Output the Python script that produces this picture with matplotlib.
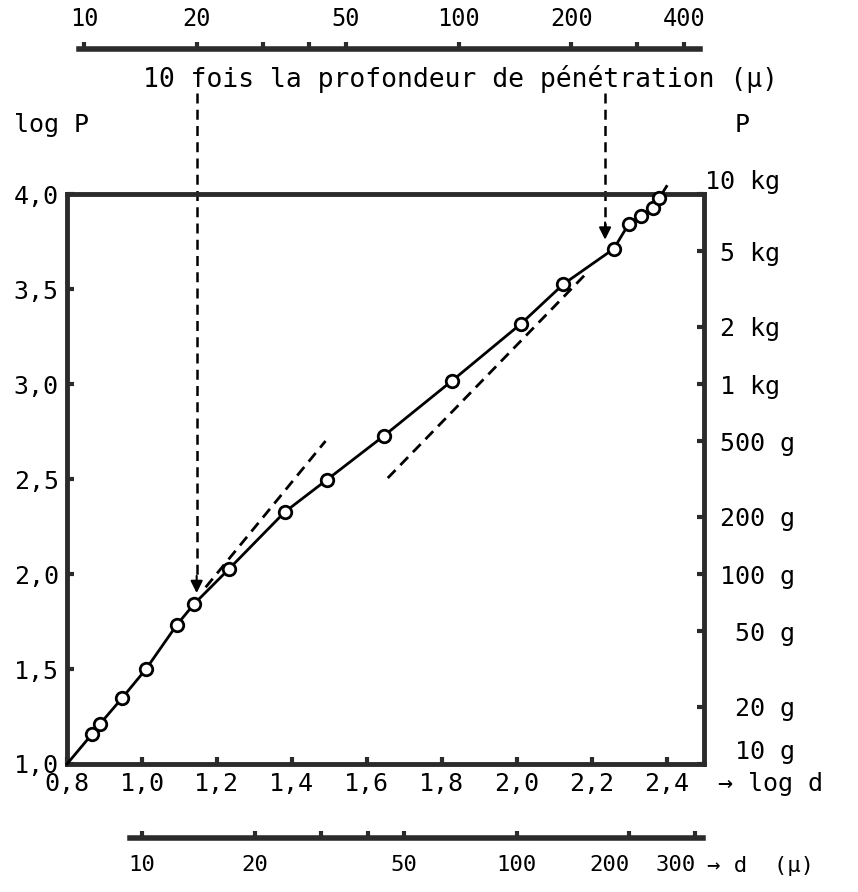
import numpy as np
import matplotlib
matplotlib.use('Agg')
import matplotlib.pyplot as plt

plt.rcParams['font.family'] = ['DejaVu Sans Mono']

# measured curve, log d (µ) vs log P (g); first point = corner start, last = end past the frame
log_d = [0.80, 0.867, 0.888, 0.947, 1.011, 1.093, 1.139, 1.232, 1.381, 1.493,
         1.645, 1.827, 2.011, 2.125, 2.259, 2.299, 2.333, 2.365, 2.381, 2.40]
log_p = [1.00, 1.158, 1.211, 1.347, 1.50, 1.732, 1.842, 2.026, 2.326, 2.495,
         2.726, 3.016, 3.316, 3.526, 3.711, 3.842, 3.884, 3.926, 3.979, 4.04]

# dashed tangents
tan1_x = [1.17, 1.49]
tan1_y = [1.93, 2.70]
tan2_x = [1.656, 2.187]
tan2_y = [2.505, 3.584]

# dashed arrows (x in log d, tip in log P)
arrow_x = [1.146, 2.236]
arrow_tip = [1.885, 3.745]
arrow_top = 4.53

# axis ticks
x_ticks = [0.8, 1.0, 1.2, 1.4, 1.6, 1.8, 2.0, 2.2, 2.4]
x_labels = ['0,8', '1,0', '1,2', '1,4', '1,6', '1,8', '2,0', '2,2', '2,4']
y_ticks = [1.0, 1.5, 2.0, 2.5, 3.0, 3.5, 4.0]
y_labels = ['1,0', '1,5', '2,0', '2,5', '3,0', '3,5', '4,0']
p_grams = [10, 20, 50, 100, 200, 500, 1000, 2000, 5000, 10000]
p_labels = ['  10 g', '  20 g', '  50 g', ' 100 g', ' 200 g', ' 500 g',
            ' 1 kg', ' 2 kg', ' 5 kg', '10 kg']
d_ticks = [10, 20, 30, 40, 50, 100, 200, 300]
d_labels = ['10', '20', '', '', '50', '100', '200', '300']
pen_ticks = [10, 20, 30, 40, 50, 100, 200, 300, 400]
pen_labels = ['10', '20', '', '', '50', '100', '200', '', '400']

spine_c = '#2b2b2b'

fig = plt.figure(figsize=(8.58, 8.92), dpi=100)
ax = fig.add_axes([0.0781, 0.1435, 0.7424, 0.6390])
ax.set_xlim(0.8, 2.5)
ax.set_ylim(1.0, 4.0)

for s in ax.spines.values():
    s.set_linewidth(3.5)
    s.set_color(spine_c)

ax.plot(log_d, log_p, color='k', lw=2, marker='o', ms=9, mfc='white',
        mec='k', mew=2, markevery=list(range(1, len(log_d) - 1)), clip_on=False, zorder=3)
ax.plot(tan1_x, tan1_y, color='k', lw=2, ls=(0, (4, 2.5)))
ax.plot(tan2_x, tan2_y, color='k', lw=2, ls=(0, (4, 2.5)))

for xa, yt in zip(arrow_x, arrow_tip):
    ax.plot([xa, xa], [arrow_top, yt + 0.06], color='k', lw=1.8, ls=(0, (4, 2.5)), clip_on=False)
    ax.annotate('', xy=(xa, yt), xytext=(xa, yt + 0.12), annotation_clip=False,
                arrowprops=dict(arrowstyle='-|>', color='k', lw=1.5, mutation_scale=18))

ax.set_xticks(x_ticks)
ax.set_xticklabels(x_labels)
ax.set_yticks(y_ticks)
ax.set_yticklabels(y_labels)
ax.tick_params(direction='in', length=5, width=3, color=spine_c, labelsize=18)
ax.tick_params(axis='x', pad=6)
ax.tick_params(axis='y', pad=6)

axr = ax.twinx()
axr.set_ylim(1.0, 4.0)
axr.set_yticks(np.log10(p_grams))
axr.set_yticklabels(p_labels)
axr.tick_params(direction='in', length=5, width=3, color=spine_c, labelsize=18, pad=1)
rlabs = axr.get_yticklabels()
for lab in rlabs:
    lab.set_ha('left')
rlabs[0].set_va('bottom')
rlabs[-1].set_va('bottom')
for s in axr.spines.values():
    s.set_visible(False)

# bottom scale: d (µ)
axd = ax.secondary_xaxis(-0.13, functions=(lambda x: 10 ** x, np.log10))
axd.set_xticks(d_ticks)
axd.set_xticklabels(d_labels)
axd.tick_params(direction='in', length=5, width=3, color=spine_c, labelsize=16, pad=12)
axd.spines['bottom'].set_linewidth(4)
axd.spines['bottom'].set_color(spine_c)
axd.spines['bottom'].set_bounds(9.3, 315)
dlabs = axd.get_xticklabels()
dlabs[-1].set_ha('right')
dlabs[-2].set_ha('right')

# top scale: 10 x penetration depth (d/7)
axt = ax.secondary_xaxis(1.254, functions=(lambda x: 10 * 10 ** x / 7,
                                           lambda v: np.log10(np.maximum(v, 1e-9) * 0.7)))
axt.set_xticks(pen_ticks)
axt.set_xticklabels(pen_labels)
axt.tick_params(direction='out', length=5, width=3, color=spine_c, labelsize=17, pad=8)
axt.spines['top'].set_linewidth(4)
axt.spines['top'].set_color(spine_c)
axt.spines['top'].set_bounds(9.7, 440)

ax.text(0.617, 1.202, '10 fois la profondeur de pénétration (µ)', transform=ax.transAxes,
        ha='center', va='center', fontsize=19)
ax.text(-0.083, 1.121, 'log P', transform=ax.transAxes, ha='left', va='center', fontsize=18)
ax.text(1.06, 1.121, 'P', transform=ax.transAxes, ha='center', va='center', fontsize=18)
ax.text(1.022, -0.035, '→ log d', transform=ax.transAxes, ha='left', va='center', fontsize=18)
ax.text(1.004, -0.179, '→ d  (µ)', transform=ax.transAxes, ha='left', va='center', fontsize=16)

fig.savefig('out.png', dpi=100)
